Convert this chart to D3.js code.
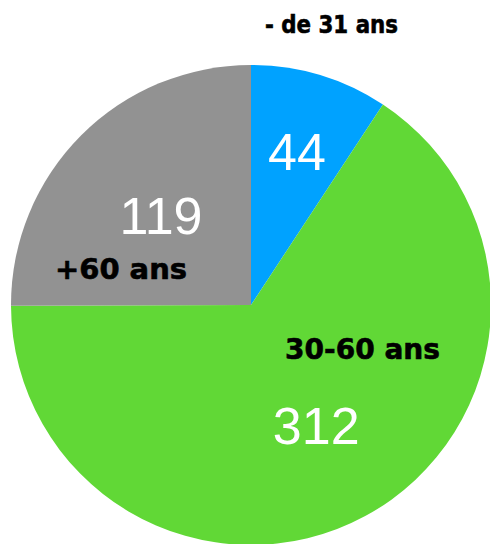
<!DOCTYPE html>
<html><head><meta charset="utf-8">
<script src="https://cdn.jsdelivr.net/npm/d3@7"></script>
<style>html,body{margin:0;padding:0;background:#fff;}svg{display:block;}</style>
</head><body>
<svg id="c" width="490" height="544"></svg>
<script>
const categories = ["- de 31 ans", "30-60 ans", "+60 ans"];
const values = [44, 312, 119];
const colors = ["#00a2ff", "#61d836", "#929292"];

const W = 490, H = 544, cx = 251, cy = 305, R = 240;
const svg = d3.select("#c");
const g = svg.append("g").attr("transform", `translate(${cx},${cy})`);

const pie = d3.pie().sort(null).startAngle(0).endAngle(2 * Math.PI);
const arcs = pie(values);
const arc = d3.arc().innerRadius(0).outerRadius(R);

g.selectAll("path").data(arcs).enter().append("path")
  .attr("d", arc).attr("fill", (d, i) => colors[i]);

// value labels along each slice's mid-angle
const valueR = [160, 137, 127];
function polar(a, r) { return [Math.sin(a) * r, -Math.cos(a) * r]; }
g.selectAll("text.v").data(arcs).enter().append("text")
  .attr("class", "v")
  .attr("transform", (d, i) => {
    const [x, y] = polar((d.startAngle + d.endAngle) / 2, valueR[i]);
    return `translate(${x},${y})`;
  })
  .attr("text-anchor", "middle").attr("dy", "0.36em")
  .attr("font-family", "Liberation Sans, Arial, sans-serif")
  .attr("font-size", 52).attr("fill", "#fff")
  .text(d => d.data);

// category labels (offsets relative to pie center)
const labelOffsets = [[80.5, -272], [111.5, 54], [-130, -26]];
const labelSizes = [24, 28, 28];
const labelLengths = [133, 155, 132];
g.selectAll("text.c").data(arcs).enter().append("text")
  .attr("class", "c")
  .attr("x", (d, i) => labelOffsets[i][0] - labelLengths[i] / 2)
  .attr("y", (d, i) => labelOffsets[i][1])
  .attr("textLength", (d, i) => labelLengths[i])
  .attr("lengthAdjust", "spacingAndGlyphs")
  .attr("font-family", "DejaVu Sans, sans-serif")
  .attr("font-weight", "bold")
  .attr("font-size", (d, i) => labelSizes[i]).attr("fill", "#000")
  .attr("stroke", "#000").attr("stroke-width", 0.6)
  .text((d, i) => categories[i]);
</script>
</body></html>
